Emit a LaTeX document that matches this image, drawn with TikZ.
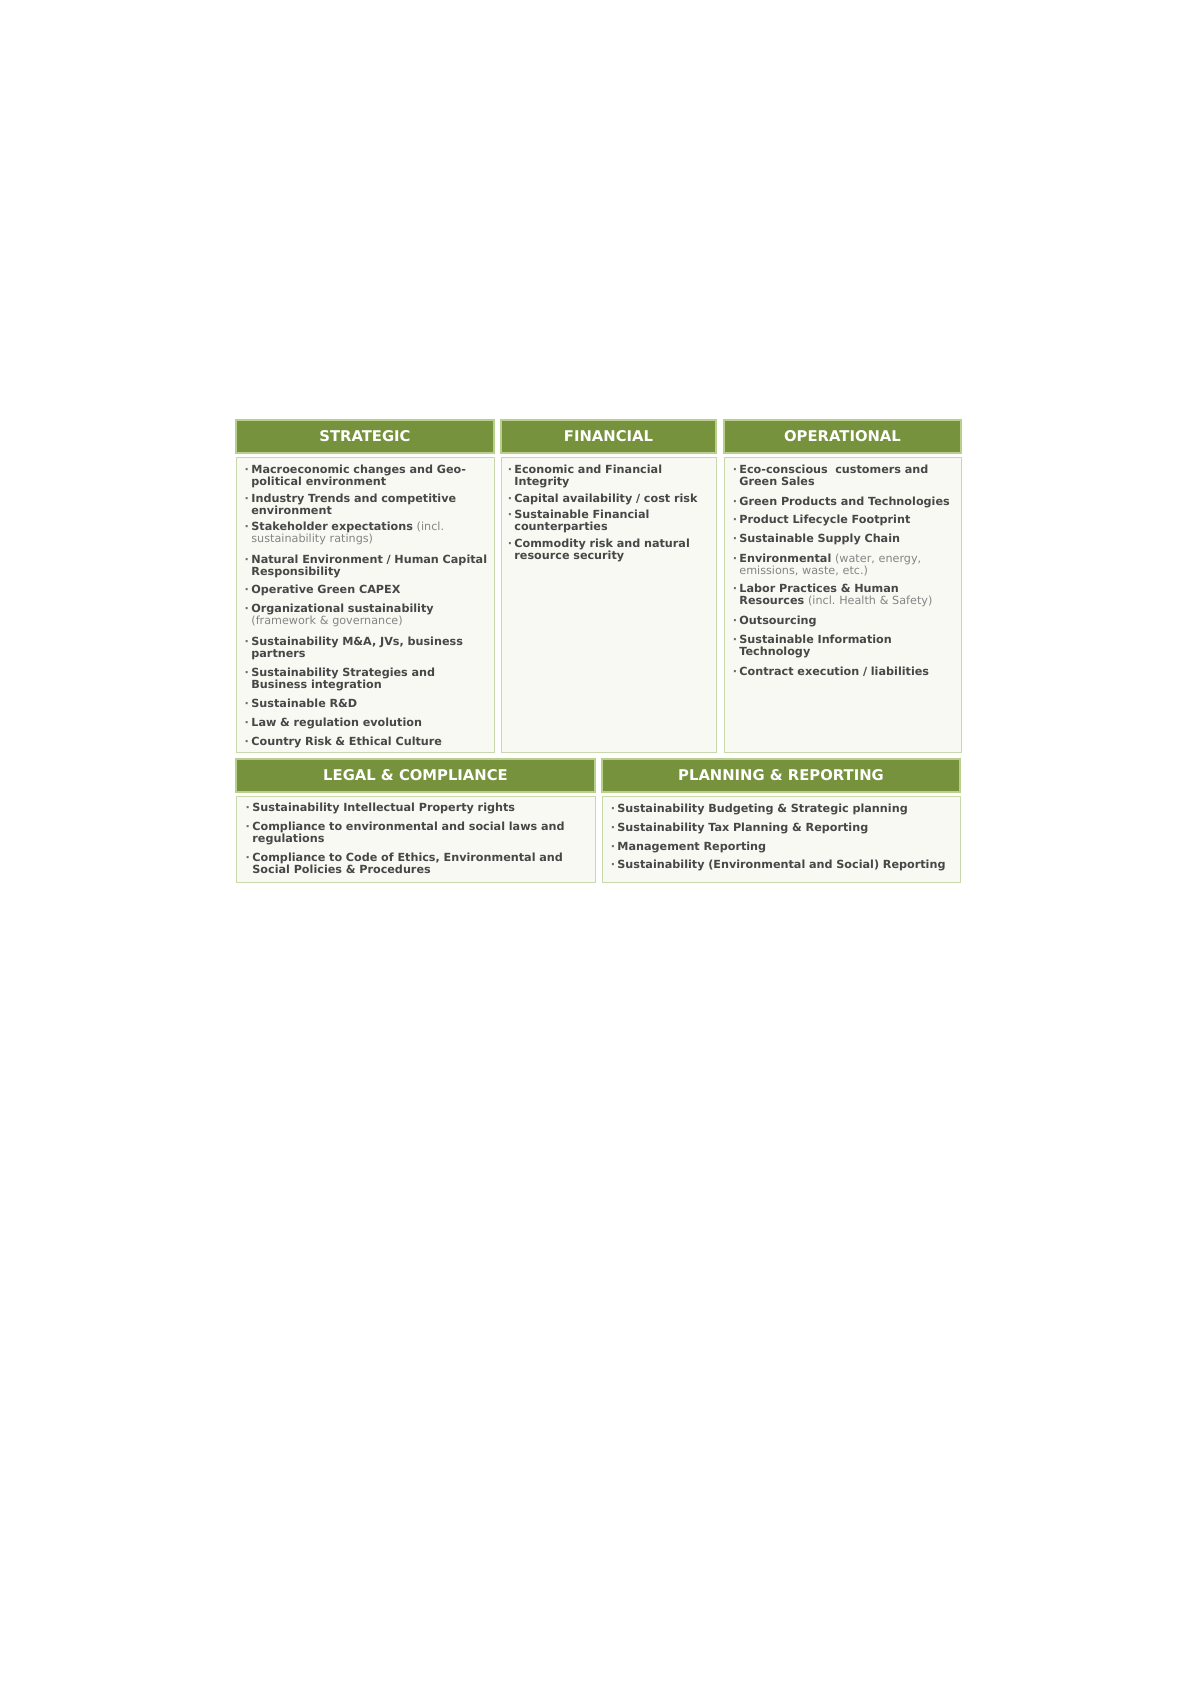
\documentclass[tikz,border=0pt]{standalone}
\usepackage{fontspec}
\setmainfont{DejaVu Sans}
\frenchspacing
\definecolor{hdrgreen}{HTML}{76923C}
\definecolor{hdredge}{HTML}{B8CF8E}
\definecolor{bodyfill}{HTML}{F7F9F2}
\definecolor{bodyedge}{HTML}{C8D7AC}
\definecolor{txtdark}{HTML}{474747}
\definecolor{txtlight}{HTML}{858585}
\definecolor{bulletc}{HTML}{6A6A6A}
\newcommand\grtxt[1]{{\mdseries\color{txtlight}#1}}
\newcommand\bul{\rule{0pt}{4.6pt}\llap{\textcolor{bulletc}{·}\hspace{1.2pt}}}
\tikzset{
  hdrbox/.style={fill=hdrgreen, draw=hdredge, line width=0.6pt},
  hdrtext/.style={text=white, font=\fontsize{7.4}{8}\selectfont\bfseries, inner sep=0pt},
  bodybox/.style={fill=bodyfill, draw=bodyedge, line width=0.5pt},
  item/.style={anchor=north west, yshift=2.75pt, inner sep=0pt, text width=200pt, align=left,
    text=txtdark, font=\fontsize{5.6}{6.25}\selectfont\bfseries}
}
\begin{document}
\begin{tikzpicture}[x=0.5pt,y=-0.5pt]
\useasboundingbox (0,0) rectangle (1196,1692);
\fill[white] (0,0) rectangle (1196,1692);

% ---------- top row boxes ----------
\draw[hdrbox] (236,420) rectangle (494,453);
\draw[hdrbox] (501,420) rectangle (716,453);
\draw[hdrbox] (724,420) rectangle (961,453);
\draw[bodybox] (236,457) rectangle (494,752);
\draw[bodybox] (501,457) rectangle (716,752);
\draw[bodybox] (724,457) rectangle (961,752);

\node[hdrtext] (hstr) at (365,436.5) {STRATEGIC};
\node[hdrtext] (hfin) at (608.5,436.5) {FINANCIAL};
\node[hdrtext] (hope) at (842.5,436.5) {OPERATIONAL};

% ---------- bottom row boxes ----------
\draw[hdrbox] (236,759) rectangle (595,792);
\draw[hdrbox] (602,759) rectangle (960,792);
\draw[bodybox] (236,796) rectangle (595,882);
\draw[bodybox] (602,796) rectangle (960,882);

\node[hdrtext] (hleg) at (415.5,775.5) {LEGAL \& COMPLIANCE};
\node[hdrtext] (hpla) at (781,775.5) {PLANNING \& REPORTING};

% ---------- STRATEGIC ----------
\node[item] (s1) at (251,469) {\bul Macroeconomic changes and Geo-\\political environment};
\node[item] (s2) at (251,498) {\bul Industry Trends and competitive\\environment};
\node[item] (s3) at (251,526) {\bul Stakeholder expectations \grtxt{(incl.}\\\grtxt{sustainability ratings)}};
\node[item] (s4) at (251,559) {\bul Natural Environment / Human Capital\\Responsibility};
\node[item] (s5) at (251,589) {\bul Operative Green CAPEX};
\node[item] (s6) at (251,608) {\bul Organizational sustainability\\\grtxt{(framework \& governance)}};
\node[item] (s7) at (251,641) {\bul Sustainability M\&A, JVs, business\\partners};
\node[item] (s8) at (251,672) {\bul Sustainability Strategies and\\Business integration};
\node[item] (s9) at (251,703) {\bul Sustainable R\&D};
\node[item] (s10) at (251,722) {\bul Law \& regulation evolution};
\node[item] (s11) at (251,741) {\bul Country Risk \& Ethical Culture};

% ---------- FINANCIAL ----------
\node[item] (f1) at (514,469) {\bul Economic and Financial\\Integrity};
\node[item] (f2) at (514,498) {\bul Capital availability / cost risk};
\node[item] (f3) at (514,514) {\bul Sustainable Financial\\counterparties};
\node[item] (f4) at (514,543) {\bul Commodity risk and natural\\resource security};

% ---------- OPERATIONAL ----------
\node[item] (o1) at (739,469) {\bul Eco-conscious\ \ customers and\\Green Sales};
\node[item] (o2) at (739,501) {\bul Green Products and Technologies};
\node[item] (o3) at (739,519) {\bul Product Lifecycle Footprint};
\node[item] (o4) at (739,538) {\bul Sustainable Supply Chain};
\node[item] (o5) at (739,558) {\bul Environmental \grtxt{(water, energy,}\\\grtxt{emissions, waste, etc.)}};
\node[item] (o6) at (739,588) {\bul Labor Practices \& Human\\Resources \grtxt{(incl. Health \& Safety)}};
\node[item] (o7) at (739,620) {\bul Outsourcing};
\node[item] (o8) at (739,639) {\bul Sustainable Information\\Technology};
\node[item] (o9) at (739,671) {\bul Contract execution / liabilities};

% ---------- LEGAL & COMPLIANCE ----------
\node[item] (l1) at (252,807) {\bul Sustainability Intellectual Property rights};
\node[item] (l2) at (252,826) {\bul Compliance to environmental and social laws and\\regulations};
\node[item] (l3) at (252,857) {\bul Compliance to Code of Ethics, Environmental and\\Social Policies \& Procedures};

% ---------- PLANNING & REPORTING ----------
\node[item] (p1) at (617,808) {\bul Sustainability Budgeting \& Strategic planning};
\node[item] (p2) at (617,827) {\bul Sustainability Tax Planning \& Reporting};
\node[item] (p3) at (617,846) {\bul Management Reporting};
\node[item] (p4) at (617,864) {\bul Sustainability (Environmental and Social) Reporting};
\end{tikzpicture}
\end{document}
